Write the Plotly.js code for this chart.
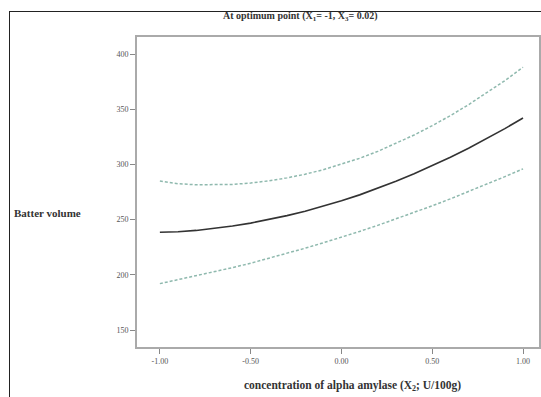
<!DOCTYPE html>
<html>
<head>
<meta charset="utf-8">
<script src="https://cdn.plot.ly/plotly-3.0.1.min.js"></script>
<style>
  html, body { margin: 0; padding: 0; background: #fff; }
  #wrap { position: relative; width: 541px; height: 397px; overflow: hidden; }
  #chart { position: absolute; left: 0; top: 0; width: 541px; height: 397px; }
  #frame { position: absolute; left: 9px; top: 11px; width: 540px; height: 400px;
           border-left: 1.5px solid #222; border-top: 1.5px solid #222; pointer-events: none; }
</style>
</head>
<body>
<div id="wrap">
  <div id="chart"></div>
  <div id="frame"></div>
</div>
<script>
// Data
const xValues = [-1.0, -0.9, -0.8, -0.7, -0.6, -0.5, -0.4, -0.3, -0.2, -0.1, 0.0,
                 0.1, 0.2, 0.3, 0.4, 0.5, 0.6, 0.7, 0.8, 0.9, 1.0];
const predicted = [238.5, 239, 240.2, 242, 244.2, 246.8, 250, 253.6, 257.6, 262.1, 267,
                   272.4, 278.3, 284.7, 291.5, 298.8, 306.5, 314.7, 323.3, 332.4, 342];
const upperBand = [285, 282.5, 281.5, 281.4, 281.9, 283.1, 285.1, 287.8, 291.1, 295.2, 300,
                   305.5, 311.8, 318.9, 326.6, 335.1, 344.2, 354.1, 364.6, 375.9, 388];
const lowerBand = [192, 195.5, 198.9, 202.6, 206.5, 210.5, 214.9, 219.4, 224.1, 229, 234,
                   239.3, 244.8, 250.5, 256.4, 262.5, 268.8, 275.3, 282, 288.9, 296];
const xTickVals = [-1.0, -0.5, 0.0, 0.5, 1.0];
const xTickText = ["-1.00", "-0.50", "0.00", "0.50", "1.00"];
const yTickVals = [150, 200, 250, 300, 350, 400];

const serif = "Liberation Serif, Times New Roman, serif";

const traces = [
  { x: xValues, y: upperBand, mode: "lines", line: { color: "#8fb9ae", width: 1.5, dash: "3px,2px" }, hoverinfo: "skip" },
  { x: xValues, y: lowerBand, mode: "lines", line: { color: "#8fb9ae", width: 1.5, dash: "3px,2px" }, hoverinfo: "skip" },
  { x: xValues, y: predicted, mode: "lines", line: { color: "#333333", width: 1.6 } }
];

const layout = {
  width: 541, height: 397,
  margin: { l: 137, r: 2, t: 37, b: 50 },
  paper_bgcolor: "#ffffff", plot_bgcolor: "#ffffff",
  showlegend: false,
  title: {
    text: "<b>At optimum point (X<sub>1</sub>= -1, X<sub>3</sub>= 0.02)</b>",
    font: { family: serif, size: 10, color: "#333" },
    xref: "container", x: 0.555, xanchor: "center",
    yref: "container", y: 0.96, yanchor: "middle"
  },
  xaxis: {
    range: [-1.126, 1.088],
    tickvals: xTickVals, ticktext: xTickText,
    ticks: "outside", ticklen: 5, tickwidth: 1, tickcolor: "#888",
    showline: true, linecolor: "#aaa", linewidth: 2, mirror: true,
    showgrid: false, zeroline: false,
    tickfont: { family: serif, size: 8, color: "#555" }
  },
  yaxis: {
    range: [134.6, 415.4],
    tickvals: yTickVals,
    ticks: "outside", ticklen: 5, tickwidth: 1, tickcolor: "#888",
    showline: true, linecolor: "#aaa", linewidth: 2, mirror: true,
    showgrid: false, zeroline: false,
    tickfont: { family: serif, size: 8, color: "#555" }
  },
  annotations: [
    {
      text: "<b>Batter volume</b>", showarrow: false,
      xref: "paper", x: -0.311, xanchor: "left",
      yref: "paper", y: 0.432, yanchor: "middle",
      font: { family: serif, size: 11, color: "#333" }
    },
    {
      text: "<b>concentration of alpha amylase (X<sub>2</sub>; U/100g)</b>", showarrow: false,
      xref: "paper", x: 0.535, xanchor: "center",
      yref: "paper", y: -0.125, yanchor: "middle",
      font: { family: serif, size: 11.5, color: "#333" }
    }
  ]
};

Plotly.newPlot("chart", traces, layout, { displayModeBar: false, staticPlot: true });
</script>
</body>
</html>
